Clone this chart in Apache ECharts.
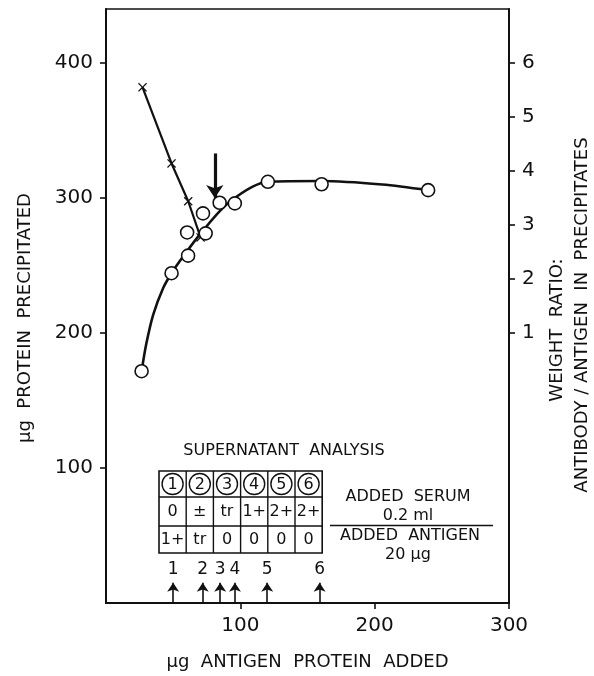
<!DOCTYPE html>
<html>
<head>
<meta charset="utf-8">
<script src="https://cdn.jsdelivr.net/npm/echarts@6/dist/echarts.min.js"></script>
<style>html,body{margin:0;padding:0;background:#fff}#c{width:594px;height:676px}</style>
</head>
<body>
<div id="c"></div>
<script>
// ---- data ----
const xCircle = [26.5, 48.8, 61.1, 60.4, 72.2, 74.2, 84.6, 95.9, 120.5, 160.5, 239.8];
const yCircle = [171.7, 244.3, 257.3, 274.5, 288.6, 273.8, 296.5, 296.0, 312.0, 310.2, 305.8];
const xCurve = [26.5, 30.0, 35.1, 42.5, 48.8, 57.4, 70.5, 92.1, 120.5, 160.4, 205.6, 239.8];
const yCurve = [171.7, 192.0, 213.5, 233.2, 244.3, 256.6, 273.8, 297.2, 312.0, 312.6, 310.0, 305.8];
const xCross = [27.2, 48.8, 61.2, 70.4];
const ratioCross = [5.55, 4.14, 3.44, 2.77];
const arrowX = [50, 72, 85, 96, 120, 159];
const arrowLabels = ['1', '2', '3', '4', '5', '6'];
const equivX = 81;
const equivFrom = 333;
const equivTo = 300;
const leftTicks = [100, 200, 300, 400];
const rightTicks = [1, 2, 3, 4, 5, 6];
const bottomTicks = [100, 200, 300];
const tableHeader = ['1', '2', '3', '4', '5', '6'];
const tableRow1 = ['0', '±', 'tr', '1+', '2+', '2+'];
const tableRow2 = ['1+', 'tr', '0', '0', '0', '0'];

const F = 'DejaVu Sans';
const INK = '#111';

// ---- table / annotation graphics ----
const g = [];
const tx = 159, ty = 471, cw = 27.2, rh = [26, 29, 27];
const tw = cw * 6, th = rh[0] + rh[1] + rh[2];
g.push({type: 'rect', shape: {x: tx, y: ty, width: tw, height: th}, style: {fill: 'none', stroke: INK, lineWidth: 1.6}});
let yy = ty;
for (let r = 0; r < 2; r++) {
  yy += rh[r];
  g.push({type: 'line', shape: {x1: tx, y1: yy, x2: tx + tw, y2: yy}, style: {stroke: INK, lineWidth: 1.4}});
}
for (let c = 1; c < 6; c++) {
  g.push({type: 'line', shape: {x1: tx + c * cw, y1: ty, x2: tx + c * cw, y2: ty + th}, style: {stroke: INK, lineWidth: 1.4}});
}
const rowsY = [ty + rh[0] / 2, ty + rh[0] + rh[1] / 2, ty + rh[0] + rh[1] + rh[2] / 2];
tableHeader.forEach((t, i) => {
  const cx = tx + cw * (i + 0.5);
  g.push({type: 'circle', shape: {cx: cx, cy: rowsY[0], r: 10.5}, style: {fill: 'none', stroke: INK, lineWidth: 1.4}});
  g.push({type: 'text', x: cx, y: rowsY[0] + 0.5, style: {text: t, font: '16px "' + F + '"', fill: INK, align: 'center', verticalAlign: 'middle'}});
});
[tableRow1, tableRow2].forEach((row, ri) => {
  row.forEach((t, i) => {
    g.push({type: 'text', x: tx + cw * (i + 0.5), y: rowsY[ri + 1], style: {text: t, font: '16px "' + F + '"', fill: INK, align: 'center', verticalAlign: 'middle'}});
  });
});
g.push({type: 'text', x: 284, y: 451, style: {text: 'SUPERNATANT  ANALYSIS', font: '16px "' + F + '"', fill: INK, align: 'center', verticalAlign: 'middle'}});
g.push({type: 'text', x: 408, y: 497, style: {text: 'ADDED  SERUM', font: '16px "' + F + '"', fill: INK, align: 'center', verticalAlign: 'middle'}});
g.push({type: 'text', x: 408, y: 516, style: {text: '0.2 ml', font: '16px "' + F + '"', fill: INK, align: 'center', verticalAlign: 'middle'}});
g.push({type: 'line', shape: {x1: 330, y1: 525.5, x2: 493, y2: 525.5}, style: {stroke: INK, lineWidth: 1.6}});
g.push({type: 'text', x: 410, y: 536, style: {text: 'ADDED  ANTIGEN', font: '16px "' + F + '"', fill: INK, align: 'center', verticalAlign: 'middle'}});
g.push({type: 'text', x: 408, y: 555, style: {text: '20 μg', font: '16px "' + F + '"', fill: INK, align: 'center', verticalAlign: 'middle'}});
// axis titles
g.push({type: 'text', x: 25, y: 318, rotation: Math.PI / 2, style: {text: 'μg  PROTEIN  PRECIPITATED', font: '18px "' + F + '"', fill: INK, align: 'center', verticalAlign: 'middle'}});
g.push({type: 'text', x: 557, y: 330, rotation: Math.PI / 2, style: {text: 'WEIGHT  RATIO:', font: '18px "' + F + '"', fill: INK, align: 'center', verticalAlign: 'middle'}});
g.push({type: 'text', x: 582, y: 315, rotation: Math.PI / 2, style: {text: 'ANTIBODY / ANTIGEN  IN  PRECIPITATES', font: '18px "' + F + '"', fill: INK, align: 'center', verticalAlign: 'middle'}});

const crossPath = 'path://M0,1L1,0L5,4L9,0L10,1L6,5L10,9L9,10L5,6L1,10L0,9L4,5Z';

const option = {
  backgroundColor: '#fff',
  animation: false,
  textStyle: {fontFamily: F, color: INK},
  grid: {left: 106, right: 85, top: 9, bottom: 71, show: true, borderColor: INK, borderWidth: 1.6, backgroundColor: 'transparent'},
  xAxis: {
    type: 'value', min: 0, max: 300, interval: 100,
    name: 'μg  ANTIGEN  PROTEIN  ADDED', nameLocation: 'middle', nameGap: 50,
    nameTextStyle: {fontSize: 18, color: INK, fontFamily: F},
    axisLine: {lineStyle: {color: INK, width: 2}},
    axisTick: {show: true, length: 6, lineStyle: {color: INK, width: 1.6}, customValues: bottomTicks},
    axisLabel: {fontSize: 20, color: INK, margin: 13, customValues: bottomTicks},
    splitLine: {show: false}
  },
  yAxis: [
    {
      type: 'value', min: 0, max: 440, interval: 100, position: 'left',
      axisLine: {show: true, lineStyle: {color: INK, width: 2}},
      axisTick: {show: true, length: 6, lineStyle: {color: INK, width: 1.6}, customValues: leftTicks},
      axisLabel: {fontSize: 20, color: INK, margin: 13, customValues: leftTicks},
      splitLine: {show: false}
    },
    {
      type: 'value', min: -4, max: 7, interval: 1, position: 'right',
      axisLine: {show: true, lineStyle: {color: INK, width: 2}},
      axisTick: {show: true, length: 6, lineStyle: {color: INK, width: 1.6}, customValues: rightTicks},
      axisLabel: {fontSize: 20, color: INK, margin: 13, customValues: rightTicks},
      splitLine: {show: false}
    }
  ],
  graphic: g,
  series: [
    {
      type: 'line', name: 'fit', data: xCurve.map((x, i) => [x, yCurve[i]]),
      smooth: 0.3, showSymbol: false, symbol: 'none',
      lineStyle: {color: INK, width: 2.6}, z: 2
    },
    {
      type: 'line', name: 'ratio', yAxisIndex: 1, data: xCross.map((x, i) => [x, ratioCross[i]]),
      symbol: crossPath, symbolSize: 9, showSymbol: true,
      itemStyle: {color: INK}, lineStyle: {color: INK, width: 2.2}, z: 3
    },
    {
      type: 'scatter', name: 'protein', data: xCircle.map((x, i) => [x, yCircle[i]]),
      symbol: 'circle', symbolSize: 13,
      itemStyle: {color: '#fff', borderColor: INK, borderWidth: 1.6, opacity: 1}, z: 5
    },
    {
      type: 'line', name: 'markers', data: [], silent: true,
      markLine: {
        silent: true, animation: false,
        symbol: ['none', 'arrow'], symbolSize: 9,
        lineStyle: {color: INK, width: 1.6, type: 'solid'},
        label: {show: true, position: 'end', formatter: '{b}', fontSize: 17, color: INK, fontFamily: F, distance: 5},
        data: arrowX.map((x, i) => [{coord: [x, 0]}, {coord: [x, 15], name: arrowLabels[i]}])
          .concat([[{coord: [equivX, equivFrom]}, {coord: [equivX, equivTo], name: '', symbolSize: 13, lineStyle: {width: 3.2}, label: {show: false}}]])
      }
    }
  ]
};
const chart = echarts.init(document.getElementById('c'), null, {renderer: 'canvas'});
chart.setOption(option);
</script>
</body>
</html>
